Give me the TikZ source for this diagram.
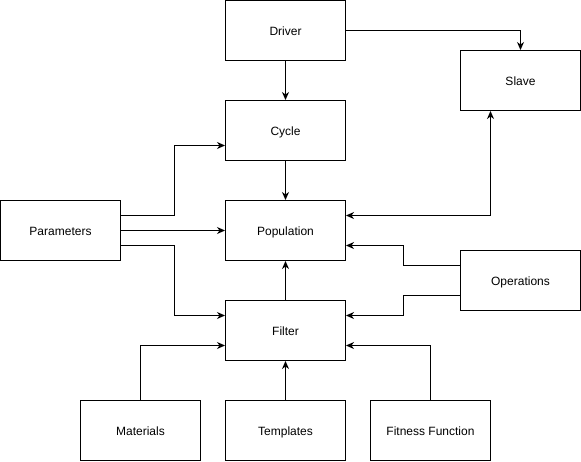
\documentclass[tikz,border=0pt]{standalone}
\usepackage{fontspec}
\setmainfont{Liberation Sans}
\usetikzlibrary{arrows.meta}
\begin{document}
\begin{tikzpicture}[x=1pt,y=1pt,
  box/.style={draw,line width=1pt,minimum width=120pt,minimum height=60pt,inner sep=0pt,text height=11pt,text depth=2pt,font=\fontsize{12}{14}\selectfont},
  conn/.style={line width=1pt,-{Stealth[length=8pt,width=7pt,inset=2.5pt]}},
  bconn/.style={line width=1pt,{Stealth[length=8pt,width=7pt,inset=2.5pt]}-{Stealth[length=8pt,width=7pt,inset=2.5pt]}}]
\useasboundingbox (0,0) rectangle (581,-461);
\node[box] (drv) at (285.5,-30.5) {Driver};
\node[box] (slv) at (520.5,-80.5) {Slave};
\node[box] (cyc) at (285.5,-130.5) {Cycle};
\node[box] (par) at (60.5,-230.5) {Parameters};
\node[box] (pop) at (285.5,-230.5) {Population};
\node[box] (ops) at (520.5,-280.5) {Operations};
\node[box] (fil) at (285.5,-330.5) {Filter};
\node[box] (mat) at (140.5,-430.5) {Materials};
\node[box] (tpl) at (285.5,-430.5) {Templates};
\node[box] (fit) at (430.5,-430.5) {Fitness Function};
\draw[conn] (drv) -- (cyc);
\draw[conn] (drv.east) -| (slv.north);
\draw[conn] (cyc) -- (pop);
\draw[conn] ([yshift=15pt]par.east) -- ++(53,0) |- ([yshift=-15pt]cyc.west);
\draw[conn] (par.east) -- (pop.west);
\draw[conn] ([yshift=-15pt]par.east) -- ++(53,0) |- ([yshift=15pt]fil.west);
\draw[bconn] ([yshift=15pt]pop.east) -| ([xshift=-30pt]slv.south);
\draw[conn] ([yshift=15pt]ops.west) -- ++(-57,0) |- ([yshift=-15pt]pop.east);
\draw[conn] ([yshift=-15pt]ops.west) -- ++(-57,0) |- ([yshift=15pt]fil.east);
\draw[conn] (fil) -- (pop);
\draw[conn] (mat.north) |- ([yshift=-15pt]fil.west);
\draw[conn] (tpl) -- (fil);
\draw[conn] (fit.north) |- ([yshift=-15pt]fil.east);
\end{tikzpicture}
\end{document}
